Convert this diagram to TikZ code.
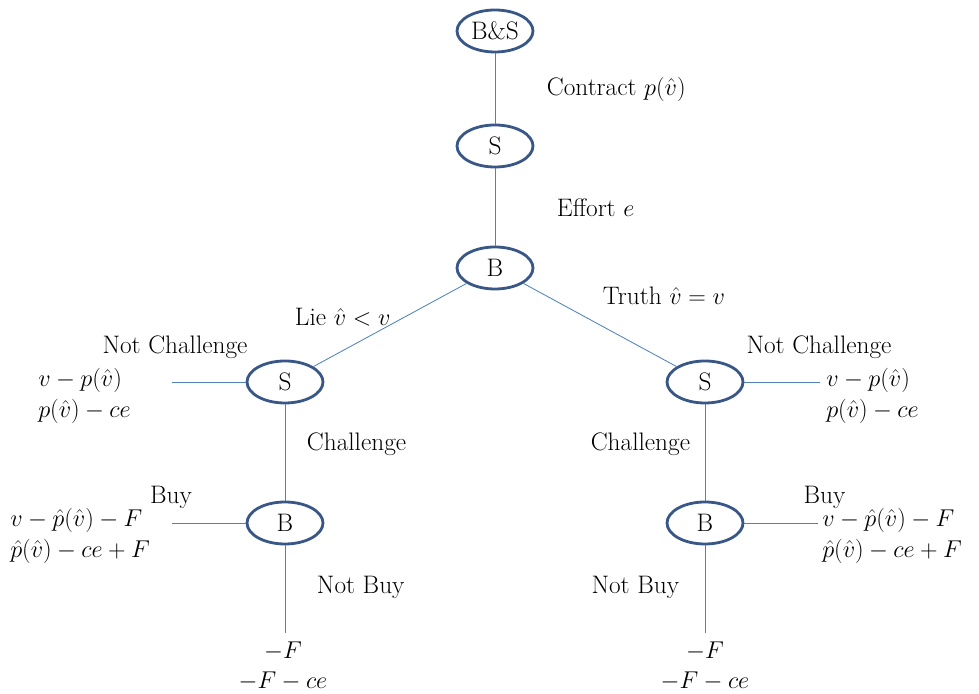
\documentclass[tikz,border=0pt]{standalone}
\usepackage{amsmath,amssymb}
\usepackage{xcolor}
\usepackage{tikz}
\usetikzlibrary{shapes,positioning}
\definecolor{playerblue}{RGB}{56,87,135}
\definecolor{branchblue}{RGB}{79,129,189}

\begin{document}
\begin{tikzpicture}
    % Styles
    \tikzstyle{player} = [draw=playerblue, ellipse, line width=2pt, minimum width=1.9cm, minimum height=1.05cm, inner sep=0pt, font=\fontsize{18}{21}\selectfont]
    \tikzstyle{branch} = [draw=branchblue, line width=0.6pt]
    \tikzstyle{act} = [font=\fontsize{18}{21}\selectfont]
    \tikzstyle{payoff} = [font=\fontsize{18}{21.5}\selectfont, align=left, inner sep=0pt]

    \useasboundingbox (0,0) rectangle (24.475,17.35);

    % Players
    \node[player] (bs) at (12.375, 16.575) {B\&S};
    \node[player] (s_top) at (12.375, 13.7) {S};
    \node[player] (b_root) at (12.375, 10.65) {B};
    \node[player] (s_lie) at (7.125, 7.8) {S};
    \node[player] (s_truth) at (17.625, 7.8) {S};
    \node[player] (b_lie) at (7.125, 4.275) {B};
    \node[player] (b_truth) at (17.625, 4.275) {B};

    % Leaf ends
    \coordinate (nc_lie) at (4.3, 7.8);
    \coordinate (nc_truth) at (20.5, 7.8);
    \coordinate (buy_lie) at (4.3, 4.275);
    \coordinate (buy_truth) at (20.45, 4.275);
    \coordinate (nb_lie) at (7.125, 1.525);
    \coordinate (nb_truth) at (17.625, 1.525);

    % Branches
    \draw[branch] (bs) -- (s_top);
    \draw[branch] (s_top) -- (b_root);
    \draw[branch] (b_root) -- (s_lie);
    \draw[branch] (b_root) -- (s_truth);
    \draw[branch] (s_lie) -- (nc_lie);
    \draw[branch] (s_truth) -- (nc_truth);
    \draw[branch] (s_lie) -- (b_lie);
    \draw[branch] (s_truth) -- (b_truth);
    \draw[branch] (b_lie) -- (buy_lie);
    \draw[branch] (b_truth) -- (buy_truth);
    \draw[branch] (b_lie) -- (nb_lie);
    \draw[branch] (b_truth) -- (nb_truth);

    % Actions
    \node[act, anchor=west] (contract) at (13.55, 15.125) {Contract $p(\hat{v})$};
    \node[act, anchor=west] (effort) at (13.8, 12.15) {Effort $e$};
    \node[act, anchor=west] (lie) at (7.25, 9.425) {Lie $\hat{v} < v$};
    \node[act, anchor=west] (truth) at (14.95, 9.95) {Truth $\hat{v} = v$};
    \node[act] (nc_lie_lbl) at (4.375, 8.675) {Not Challenge};
    \node[act] (nc_truth_lbl) at (20.475, 8.675) {Not Challenge};
    \node[act, anchor=west] (ch_lie) at (7.55, 6.25) {Challenge};
    \node[act, anchor=east] (ch_truth) at (17.375, 6.25) {Challenge};
    \node[act] (buy_lie_lbl) at (4.275, 4.925) {Buy};
    \node[act] (buy_truth_lbl) at (20.61, 4.925) {Buy};
    \node[act, anchor=west] (nb_lie_lbl) at (7.8, 2.675) {Not Buy};
    \node[act, anchor=east] (nb_truth_lbl) at (17.1, 2.675) {Not Buy};

    % Payoffs
    \node[payoff, anchor=west] (pay_nc_lie) at (0.95, 7.45) {$v - p(\hat{v})$\\$p(\hat{v}) - ce$};
    \node[payoff, anchor=west] (pay_nc_truth) at (20.65, 7.45) {$v - p(\hat{v})$\\$p(\hat{v}) - ce$};
    \node[payoff, anchor=west] (pay_buy_lie) at (0.25, 3.95) {$v - \hat{p}(\hat{v}) - F$\\$\hat{p}(\hat{v}) - ce + F$};
    \node[payoff, anchor=west] (pay_buy_truth) at (20.55, 3.95) {$v - \hat{p}(\hat{v}) - F$\\$\hat{p}(\hat{v}) - ce + F$};
    \node[payoff, align=center] (pay_nb_lie) at (7.075, 0.7) {$-F$\\$-F - ce$};
    \node[payoff, align=center] (pay_nb_truth) at (17.625, 0.7) {$-F$\\$-F - ce$};
\end{tikzpicture}
\end{document}
